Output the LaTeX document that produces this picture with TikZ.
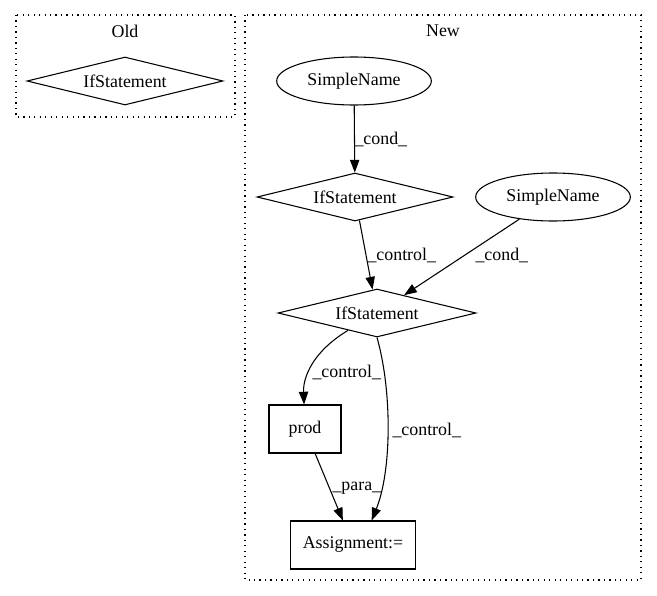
\documentclass[tikz,border=0pt]{standalone}
\usepackage{fontspec}
\setmainfont{Liberation Serif}
\usetikzlibrary{shapes.geometric,arrows.meta}
\begin{document}
\begin{tikzpicture}[x=0.75pt, y=-0.75pt, line width=0.8pt,
        every node/.style={font=\fontsize{13.4}{15}\selectfont},
        ifstmt/.style={draw, diamond, shape aspect=4, inner sep=0pt, minimum width=147pt, minimum height=36pt},
        sname/.style={draw, ellipse, inner sep=0pt, minimum width=116pt, minimum height=36pt},
        op/.style={draw, rectangle, inner sep=0pt, minimum height=36pt},
        cluster/.style={dash pattern=on 0.9pt off 3.2pt},
        edge/.style={-{Triangle[length=9.5pt, width=7pt]}},
        lbl/.style={anchor=west, inner sep=0pt}]
                \useasboundingbox (0, 0) rectangle (657, 596);
                \draw [cluster] (16, 15) rectangle (235, 117);
                \draw [cluster] (245, 15) rectangle (641, 580);
                \node (oldtitle) at (125, 31) {Old};
                \node (newtitle) at (443, 31) {New};
                \node [ifstmt] (oldif) at (125, 81) {IfStatement};
                \node [sname] (sname1) at (354, 81) {SimpleName};
                \node [ifstmt] (if1) at (355, 197) {IfStatement};
                \node [sname] (sname2) at (553, 197) {SimpleName};
                \node [ifstmt, shape aspect=4.1, minimum width=148.5pt] (if2) at (377, 313) {IfStatement};
                \node [op, minimum width=54pt] (prod) at (305, 429) {prod};
                \node [op, minimum width=94pt] (assign) at (353, 545) {Assignment:=};
                \draw [edge] (sname1) -- (if1);
                \draw [edge] (if1) -- (if2);
                \draw [edge] (sname2) -- (if2);
                \draw [edge] (if2) .. controls (312, 352) and (303, 378) .. (prod);
                \draw [edge] (if2.south) .. controls (392, 390) and (392, 470) .. ([xshift=14pt]assign.north);
                \draw [edge] (prod) -- (assign);
                \node [lbl] (lcond1) at (354, 139) {\_cond\_};
                \node [lbl] (lctrl1) at (367, 255) {\_control\_};
                \node [lbl] (lcond2) at (475, 255) {\_cond\_};
                \node [lbl] (lctrl2) at (312, 372) {\_control\_};
                \node [lbl] (lctrl3) at (392, 430) {\_control\_};
                \node [lbl] (lpara) at (332, 488) {\_para\_};
            \end{tikzpicture}
\end{document}
